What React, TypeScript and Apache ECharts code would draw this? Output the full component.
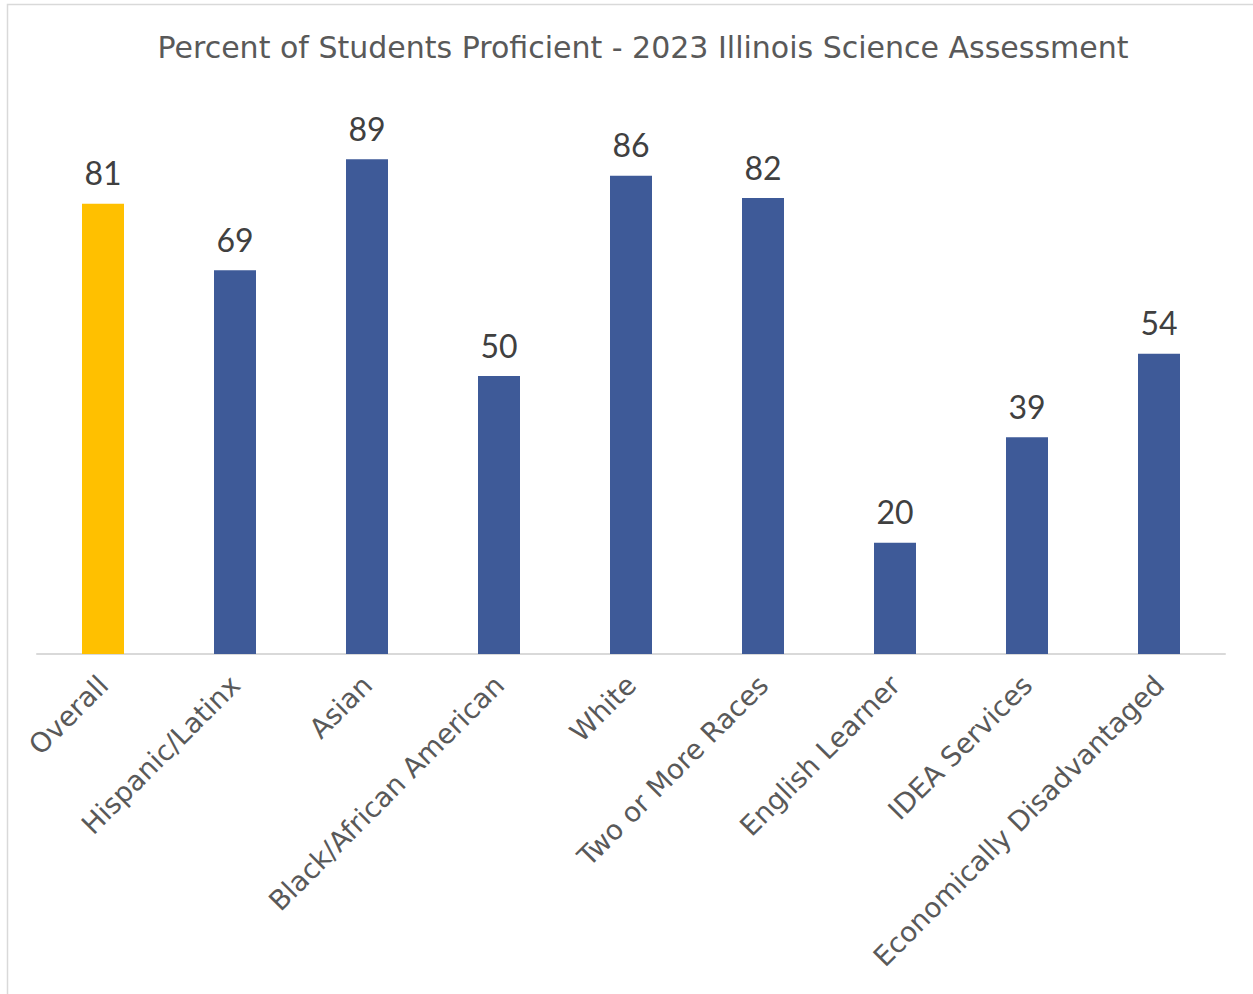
import React, { useEffect, useRef } from "react";
import * as echarts from "echarts";

const categories = [
  "Overall",
  "Hispanic/Latinx",
  "Asian",
  "Black/African American",
  "White",
  "Two or More Races",
  "English Learner",
  "IDEA Services",
  "Economically Disadvantaged",
];
const values = [81, 69, 89, 50, 86, 82, 20, 39, 54];
const highlightIndex = 0;
const titleText = "Percent of Students Proficient - 2023 Illinois Science Assessment";

const FONT = "'Century Gothic', 'URW Gothic', 'DejaVu Sans', sans-serif";
const NUMFONT = "'Century Gothic', Lato, sans-serif";

export default function App() {
  const ref = useRef<HTMLDivElement>(null);
  useEffect(() => {
    const chart = echarts.init(ref.current!, null, { renderer: "svg" });
    chart.setOption({
      animation: false,
      backgroundColor: "#ffffff",
      title: {
        text: titleText,
        left: 638,
        top: 27,
        textAlign: "center",
        textStyle: { fontFamily: FONT, fontSize: 30, fontWeight: "normal", color: "#595959" },
      },
      graphic: [
        {
          type: "rect",
          shape: { x: 7.5, y: 4.5, width: 1400, height: 1200 },
          style: { fill: "none", stroke: "#d9d9d9", lineWidth: 1.5 },
          silent: true,
        },
      ],
      grid: { left: 37, right: 28, top: 98, bottom: 340, containLabel: false },
      xAxis: {
        type: "category",
        data: categories,
        axisLine: { lineStyle: { color: "#d9d9d9", width: 2 } },
        axisTick: { show: false },
        axisLabel: {
          rotate: 45,
          interval: 0,
          margin: 26,
          fontFamily: FONT,
          fontSize: 27.5,
          color: "#595959",
        },
      },
      yAxis: {
        type: "value",
        min: 0,
        max: 100,
        show: false,
        splitLine: { show: false },
      },
      series: [
        {
          type: "bar",
          barWidth: 42,
          data: values.map((v, i) => ({
            value: v,
            itemStyle: { color: i === highlightIndex ? "#FFC000" : "#3E5A98" },
          })),
          label: {
            show: true,
            position: "top",
            distance: 15,
            fontFamily: NUMFONT,
            fontSize: 32,
            color: "#404040",
          },
        },
      ],
    });
    return () => chart.dispose();
  }, []);
  return (
    <div
      ref={ref}
      style={{ position: "absolute", left: 0, top: 0, width: 1253, height: 994 }}
    />
  );
}
